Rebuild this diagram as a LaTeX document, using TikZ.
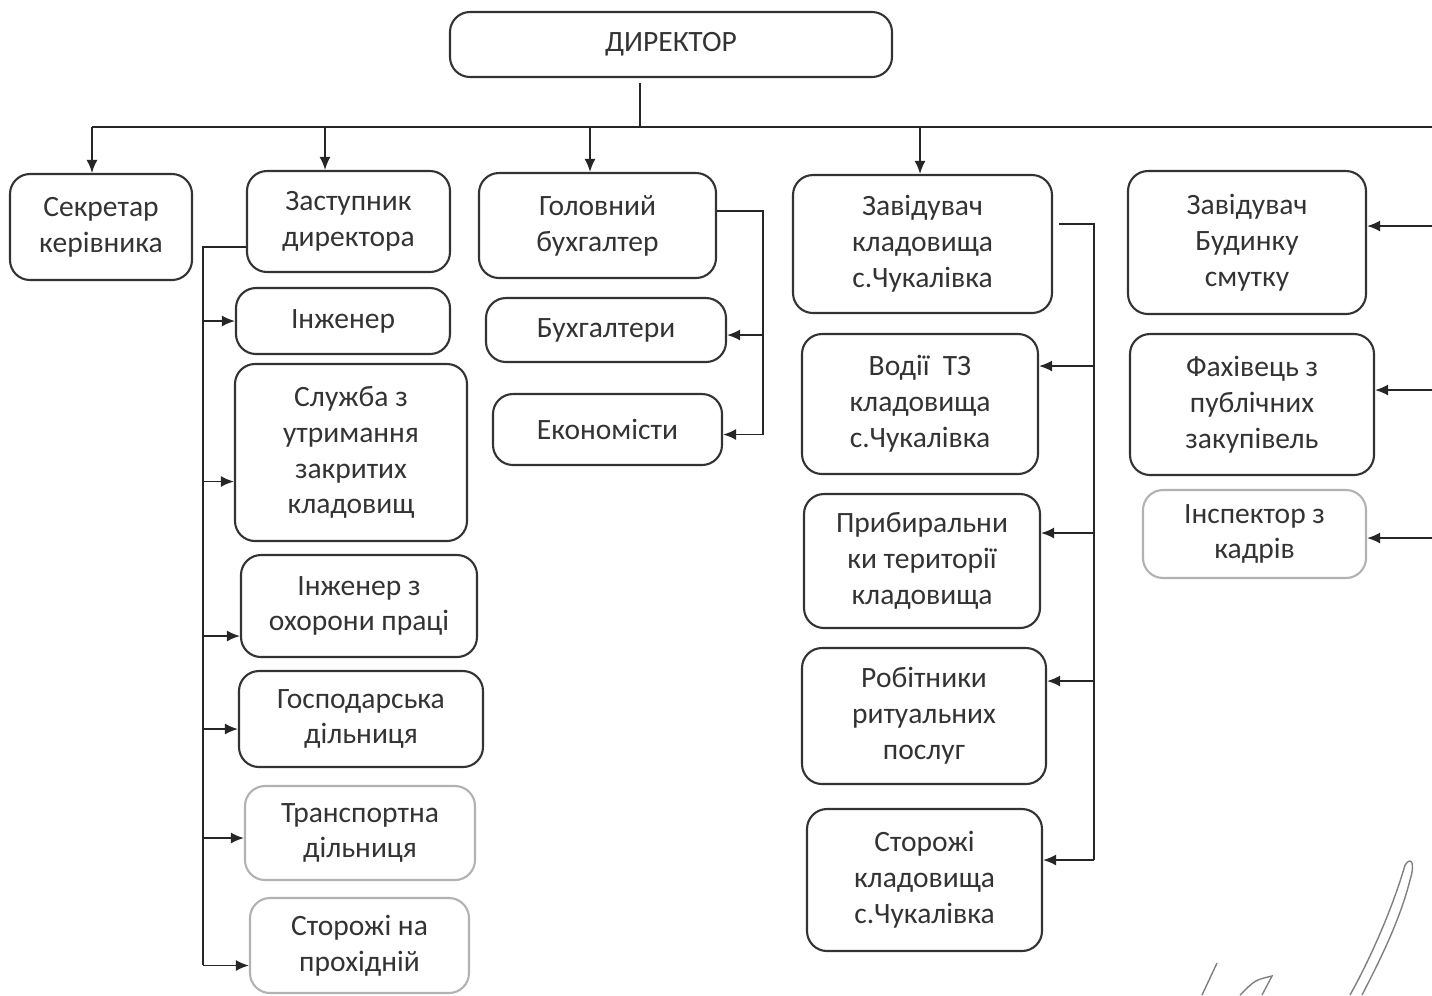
\documentclass[tikz,border=0pt]{standalone}
\usepackage{fontspec}
\setmainfont{Carlito}
\usetikzlibrary{arrows.meta}

\begin{document}
\begin{tikzpicture}[
  box/.style={draw=black!80, line width=0.6pt, rounded corners=0.2cm, align=center, inner sep=0pt, text=black!80, font=\fontsize{8.4}{10.2}\selectfont},
  faint/.style={box, draw=black!30},
  arr/.style={-{Latex[length=1.3mm,width=1.1mm]}},
  line width=0.5pt, draw=black!85
]
\useasboundingbox (0,0) rectangle (14.32,-9.95);

% top level
\node[box, minimum width=4.42cm, minimum height=0.65cm] (dir) at (6.71,-0.445) {ДИРЕКТОР};

\node[box, minimum width=1.82cm, minimum height=1.06cm] (secr) at (1.01,-2.27) {Секретар\\керівника};
\node[box, minimum width=2.03cm, minimum height=1.01cm] (dep) at (3.485,-2.215) {Заступник\\директора};
\node[box, minimum width=2.37cm, minimum height=1.05cm] (glbuh) at (5.975,-2.255) {Головний\\бухгалтер};
\node[box, minimum width=2.59cm, minimum height=1.38cm] (zavkl) at (9.225,-2.44) {Завідувач\\кладовища\\с.Чукалівка};
\node[box, minimum width=2.38cm, minimum height=1.43cm] (zavbs) at (12.47,-2.425) {Завідувач\\Будинку\\смутку};

% deputy
\node[box, minimum width=2.14cm, minimum height=0.66cm] (inzh) at (3.43,-3.21) {Інженер};
\node[box, minimum width=2.32cm, minimum height=1.77cm] (sluzh) at (3.51,-4.525) {Служба з\\утримання\\закритих\\кладовищ};
\node[box, minimum width=2.36cm, minimum height=1.02cm] (ohor) at (3.59,-6.06) {Інженер з\\охорони праці};
\node[box, minimum width=2.44cm, minimum height=0.96cm] (gosp) at (3.61,-7.19) {Господарська\\дільниця};
\node[faint, minimum width=2.30cm, minimum height=0.94cm] (transp) at (3.60,-8.33) {Транспортна\\дільниця};
\node[faint, minimum width=2.19cm, minimum height=0.95cm] (storozh) at (3.595,-9.455) {Сторожі на\\прохідній};

% accountants
\node[box, minimum width=2.40cm, minimum height=0.64cm] (buh) at (6.06,-3.30) {Бухгалтери};
\node[box, minimum width=2.29cm, minimum height=0.71cm] (econ) at (6.075,-4.295) {Економісти};

% cemetery
\node[box, minimum width=2.36cm, minimum height=1.40cm] (vodii) at (9.20,-4.04) {Водії~~ТЗ\\кладовища\\с.Чукалівка};
\node[box, minimum width=2.36cm, minimum height=1.34cm] (prybyr) at (9.22,-5.61) {Прибиральни\\ки території\\кладовища};
\node[box, minimum width=2.44cm, minimum height=1.36cm] (robit) at (9.24,-7.16) {Робітники\\ритуальних\\послуг};
\node[box, minimum width=2.35cm, minimum height=1.42cm] (storkl) at (9.245,-8.80) {Сторожі\\кладовища\\с.Чукалівка};

% right column
\node[box, minimum width=2.44cm, minimum height=1.41cm] (fakh) at (12.52,-4.045) {Фахівець з\\публічних\\закупівель};
\node[faint, minimum width=2.23cm, minimum height=0.88cm] (insp) at (12.545,-5.34) {Інспектор з\\кадрів};

\coordinate (redge) at (14.32,-1.27);
\coordinate (bl) at (0.92,-1.27);
\coordinate (dtop) at (2.03,-2.47);
\coordinate (dbot) at (2.03,-9.65);
\coordinate (bbot) at (7.63,-4.35);
\coordinate (kbot) at (10.94,-8.60);

\draw ([xshift=-0.31cm,yshift=-0.05cm]dir.south) -- ([xshift=-0.31cm]dir.south |- redge);
\draw (bl) -- (redge);

\foreach \n/\dx in {secr/-0.09, dep/-0.235, glbuh/-0.075, zavkl/-0.025}
{
\draw[arr] ([xshift=\dx cm]\n.north |- redge) -- ([xshift=\dx cm]\n.north);
}

\draw (dep.west |- dtop) -- (dtop) -- (dbot);
\foreach \n/\dy in {inzh/0, sluzh/-0.29, ohor/-0.3, gosp/-0.1, transp/-0.05, storozh/-0.2}
{
\draw[arr] ([yshift=\dy cm]\n.west -| dtop) -- ([yshift=\dy cm]\n.west);
}

\draw ([yshift=0.145cm]glbuh.east) -| (bbot);
\foreach \n in {buh, econ}
{
\draw[arr] ([yshift=-0.05cm]\n.east -| bbot) -- ([yshift=-0.05cm]\n.east);
}

\draw ([xshift=0.06cm,yshift=0.2cm]zavkl.east) -| (kbot);
\foreach \n/\dy in {vodii/0.38, prybyr/0.28, robit/0.35, storkl/0.2}
{
\draw[arr] ([yshift=\dy cm]\n.east -| kbot) -- ([yshift=\dy cm]\n.east);
}

\foreach \n/\dy in {zavbs/0.165, fakh/0.145, insp/-0.04}
{
\draw[arr] ([yshift=\dy cm]\n.east -| redge) -- ([yshift=\dy cm]\n.east);
}

% signature
\draw[black!50, line width=0.4pt] (12.02,-9.95) -- (12.17,-9.63);
\draw[black!50, line width=0.4pt] (12.40,-9.95) .. controls (12.55,-9.80) .. (12.72,-9.76) -- (12.62,-9.95);
\draw[black!50, line width=0.4pt] (13.50,-9.95) .. controls (13.75,-9.50) and (13.95,-9.00) .. (14.05,-8.65)
  .. controls (14.12,-8.55) and (14.15,-8.65) .. (14.10,-8.80) .. controls (14.00,-9.20) and (13.80,-9.60) .. (13.62,-9.95);
\end{tikzpicture}
\end{document}
